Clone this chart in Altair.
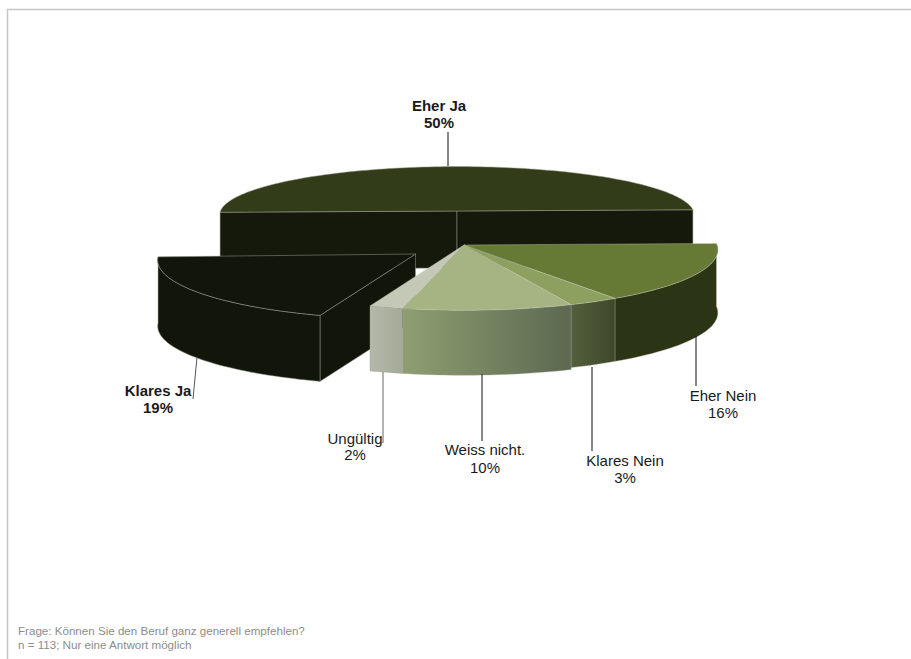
import math
import altair as alt
import pandas as pd

# Answer categories and their shares in percent, clockwise from three o'clock
categories = ["Eher Nein", "Klares Nein", "Weiss nicht.", "Ungültig", "Klares Ja", "Eher Ja"]
shares = [16, 3, 10, 2, 19, 50]
footnote_lines = [
    "Frage: Können Sie den Beruf ganz generell empfehlen?",
    "n = 113; Nur eine Antwort möglich",
]

W, H = 911, 659
PERSPECTIVE = 0.08
FIRST_ANGLE = -1.5
EDGE = "#9d9f90"

sx = alt.Scale(domain=[0, W], nice=False, zero=False)
sy = alt.Scale(domain=[0, H], reverse=True, nice=False, zero=False)


def gradient(c0, c1):
    return alt.LinearGradient(
        gradient="linear", x1=0, x2=1, y1=0, y2=0,
        stops=[alt.GradientStop(color=c0, offset=0), alt.GradientStop(color=c1, offset=1)],
    )


# Exploded position, size and colouring of each slice
slice_style = {
    "Eher Ja": dict(cx=457, cy=211, a=236.5, b=48, depth=57, tilt=0,
                    top="#333c19", wall="#15190b"),
    "Klares Ja": dict(cx=415.5, cy=254, a=257, b=60, depth=66, tilt=-0.005,
                      top="#12160a", wall="#12160a"),
    "Eher Nein": dict(cx=464, cy=245, a=253, b=60, depth=63, tilt=0,
                      top="#667a35", wall="#2c3416"),
    "Klares Nein": dict(cx=464, cy=245, a=253, b=60, depth=63, tilt=0,
                        top="#8da05f", wall=gradient("#525e3c", "#3f492a")),
    "Weiss nicht.": dict(cx=464, cy=245, a=253, b=60, depth=65, tilt=0,
                         top="#a6b382", wall=gradient("#8f9e72", "#5d6850")),
    "Ungültig": dict(cx=464, cy=245, a=253, b=60, depth=65, tilt=0,
                     top="#c4c9b7", wall=gradient("#b4b8a8", "#a5aa98")),
}

# Slice angles follow from the cumulative shares
angles = {}
running = 0
for name, share in zip(categories, shares):
    angles[name] = (FIRST_ANGLE + running * 3.6, FIRST_ANGLE + (running + share) * 3.6)
    running += share


def project(style, deg):
    t = math.radians(deg)
    u, v = math.cos(t), math.sin(t)
    f = 1 - PERSPECTIVE * v
    x = style["a"] * u / f
    y = style["b"] * v / f
    return style["cx"] + x, style["cy"] + y + style["tilt"] * x


def arc_points(style, start, end):
    steps = max(2, int(abs(end - start) / 1.5))
    return [project(style, start + (end - start) * k / steps) for k in range(steps + 1)]


def face(points, fill, stroke=EDGE, width=0.5):
    closed = points + [points[0]]
    df = pd.DataFrame({
        "x": [p[0] for p in closed],
        "y": [p[1] for p in closed],
        "i": list(range(len(closed))),
    })
    return alt.Chart(df).mark_line(
        fill=fill, stroke=stroke, strokeWidth=width, strokeJoin="round", interpolate="linear"
    ).encode(
        x=alt.X("x:Q", scale=sx, axis=None),
        y=alt.Y("y:Q", scale=sy, axis=None),
        order=alt.Order("i:Q"),
    )


def drop(points, depth):
    return [(x, y + depth) for x, y in points]


layers = []

# Back slice: its two cut faces are what the viewer sees
s = slice_style["Eher Ja"]
a0, a1 = angles["Eher Ja"]
apex = (s["cx"], s["cy"])
rim = arc_points(s, a0, a1)
for end in (rim[0], rim[-1]):
    layers.append(face([end, apex, drop([apex], s["depth"])[0], drop([end], s["depth"])[0]], s["wall"]))
layers.append(face(rim + [apex], s["top"]))

# Left slice pulled out of the pie
s = slice_style["Klares Ja"]
a0, a1 = angles["Klares Ja"]
apex = (s["cx"], s["cy"])
rim = arc_points(s, a0, a1)
layers.append(face([rim[0], apex, drop([apex], s["depth"])[0], drop([rim[0]], s["depth"])[0]], s["wall"]))
layers.append(face(rim + drop(rim, s["depth"])[::-1], s["wall"]))
layers.append(face(rim + [apex], s["top"]))

# Front group of slices, walls first and then the top surfaces
front = ["Ungültig", "Weiss nicht.", "Klares Nein", "Eher Nein"]
for name in front:
    s = slice_style[name]
    rim = arc_points(s, *angles[name])
    layers.append(face(rim + drop(rim, s["depth"])[::-1], s["wall"], width=0.35))
for name in front:
    s = slice_style[name]
    rim = arc_points(s, *angles[name])
    layers.append(face(rim + [(s["cx"], s["cy"])], s["top"], stroke="#c9cdbb", width=0.4))

# Chart frame
frame_color = "#c6c6c6"
layers.append(alt.Chart(pd.DataFrame({"k": [0]})).mark_rule(color=frame_color, strokeWidth=1.5).encode(
    x=alt.value(7.5), y=alt.value(9), y2=alt.value(H)))
layers.append(alt.Chart(pd.DataFrame({"k": [0]})).mark_rule(color=frame_color, strokeWidth=1.5).encode(
    y=alt.value(9.5), x=alt.value(7), x2=alt.value(W)))

# Leader lines and their labels
leader_layout = {
    "Eher Ja": ((448, 132), (448, 166), "#111111"),
    "Klares Ja": ((197, 357), (193, 399), "#555555"),
    "Ungültig": ((383, 372), (383, 443), "#666666"),
    "Weiss nicht.": ((482, 374), (482, 441), "#111111"),
    "Klares Nein": ((592, 367), (592, 451), "#111111"),
    "Eher Nein": ((696, 336), (696, 386), "#111111"),
}
label_layout = {
    "Eher Ja": (439, 106, 123),
    "Klares Ja": (158, 391, 408),
    "Ungültig": (355, 439, 455),
    "Weiss nicht.": (485, 450, 468),
    "Klares Nein": (625, 461, 478),
    "Eher Nein": (723, 396, 413),
}
for name, (p0, p1, color) in leader_layout.items():
    df = pd.DataFrame({"x": [p0[0]], "y": [p0[1]], "x2": [p1[0]], "y2": [p1[1]]})
    layers.append(alt.Chart(df).mark_rule(color=color, strokeWidth=1).encode(
        x=alt.X("x:Q", scale=sx, axis=None), y=alt.Y("y:Q", scale=sy, axis=None),
        x2="x2:Q", y2="y2:Q"))

rows = []
for name, share in zip(categories, shares):
    x, y0, y1 = label_layout[name]
    bold = name in ("Eher Ja", "Klares Ja")
    rows.append(dict(x=x, y=y0, text=name, bold=bold))
    rows.append(dict(x=x, y=y1, text=f"{share}%", bold=bold))
labels = pd.DataFrame(rows)
for bold, weight in ((True, "bold"), (False, "normal")):
    layers.append(alt.Chart(labels[labels["bold"] == bold]).mark_text(
        font="Liberation Sans", fontSize=15, fontWeight=weight, color="#1a1a1a", align="center", baseline="middle"
    ).encode(
        x=alt.X("x:Q", scale=sx, axis=None), y=alt.Y("y:Q", scale=sy, axis=None), text="text:N"))

# Footnote
foot = pd.DataFrame({"x": [18, 18], "y": [632, 646], "text": footnote_lines})
layers.append(alt.Chart(foot).mark_text(
    font="Liberation Sans", fontSize=11.6, color="#8c8c8c", align="left", baseline="middle"
).encode(x=alt.X("x:Q", scale=sx, axis=None), y=alt.Y("y:Q", scale=sy, axis=None), text="text:N"))

chart = alt.layer(*layers).properties(
    width=W, height=H, padding=0, background="white", autosize=alt.AutoSizeParams(type="none")
).configure_view(stroke=None)

chart.save("out.html", embed_options={"renderer": "svg", "actions": False})
